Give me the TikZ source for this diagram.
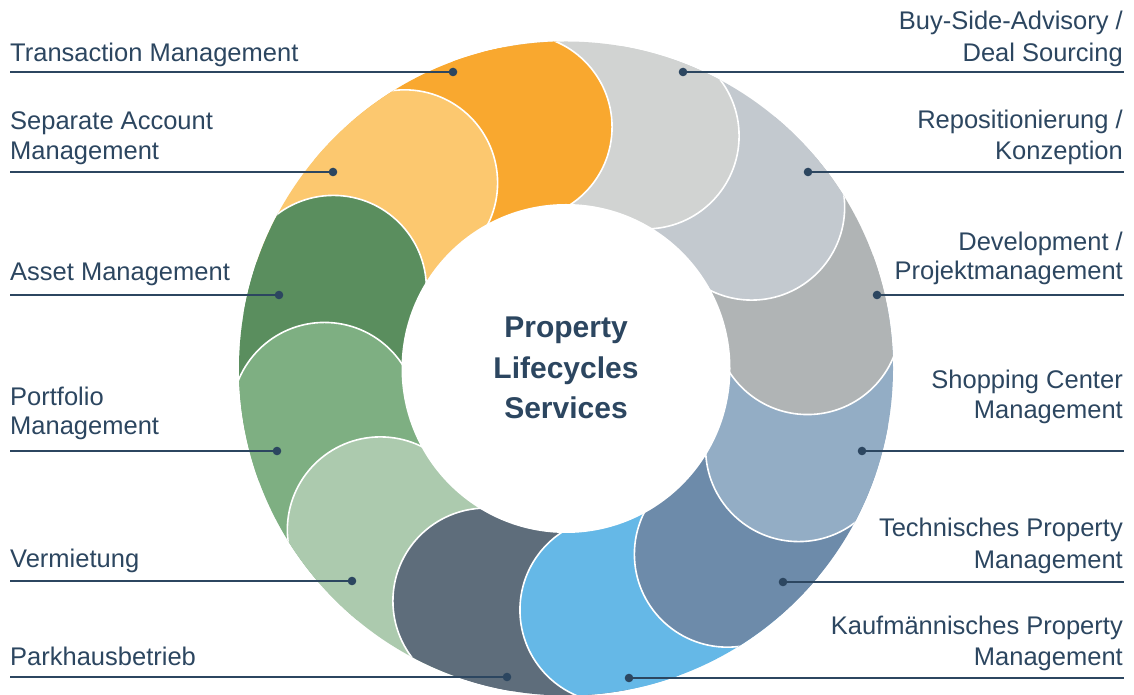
\documentclass[tikz,border=0pt]{standalone}
\usepackage{fontspec}
\setmainfont{Liberation Sans}
\usetikzlibrary{calc}
\definecolor{navy}{HTML}{2C4660}
\definecolor{cTra}{HTML}{F9A82F}
\definecolor{cSep}{HTML}{FCC86F}
\definecolor{cAss}{HTML}{5A8E5E}
\definecolor{cPor}{HTML}{7EAF82}
\definecolor{cVer}{HTML}{ACCAAE}
\definecolor{cPar}{HTML}{5E6D7B}
\definecolor{cKau}{HTML}{65B8E7}
\definecolor{cTec}{HTML}{6D8BAA}
\definecolor{cSho}{HTML}{93ADC5}
\definecolor{cDev}{HTML}{B0B4B5}
\definecolor{cRep}{HTML}{C3C9CF}
\definecolor{cBuy}{HTML}{D1D3D2}
\begin{document}
\begin{tikzpicture}[x=1pt,y=1pt,
  petalrim/.style={draw=white, line width=1.6pt},
  lead/.style={draw=navy, line width=2pt},
  dotn/.style={circle, fill=navy, inner sep=0pt, minimum size=8.6pt},
  lbl/.style={text=navy, font=\fontsize{25.5}{31}\selectfont, inner sep=0pt},
  ttl/.style={text=navy, font=\fontsize{30}{40}\selectfont\bfseries, inner sep=0pt}]
\useasboundingbox (0,0) rectangle (1134,695);
\fill[white] (0,0) rectangle (1134,695);
\coordinate (C) at (566,326.5);
% ring of overlapping petals
\begin{scope}
  \clip (C) circle (327);
  \foreach \a/\c in {101/cTra,131/cSep,161/cAss,191/cPor,221/cVer,251/cPar,281/cKau,311/cTec,341/cSho,371/cDev,401/cRep,431/cBuy}{
    \fill[\c] (C) -- ($(C)+(\a:420)$) -- ($(C)+({\a+15}:420)$) -- ($(C)+({\a+30}:420)$) -- cycle;
    \fill[\c] ($(C)+(\a:246)$) circle (93);
    \begin{scope}
      \clip (C) -- ($(C)+(\a:420)$) -- ($(C)+({\a-20}:420)$) -- ($(C)+({\a-45}:420)$) -- cycle;
      \draw[petalrim] ($(C)+(\a:246)$) circle (93);
    \end{scope}
  }
  % close the cycle: leading half of the first petal on top of the last
  \clip (C) -- ($(C)+(105:420)$) -- ($(C)+(81:420)$) -- ($(C)+(56:420)$) -- cycle;
  \fill[cTra] ($(C)+(101:246)$) circle (93);
  \draw[petalrim] ($(C)+(101:246)$) circle (93);
\end{scope}
% hub
\node[circle, fill=white, minimum size=329pt, inner sep=0pt] (hub) at (C) {};
\node[ttl, anchor=base] (t1) at (566,357.3) {Property};
\node[ttl, anchor=base] (t2) at (566,316.7) {Lifecycles};
\node[ttl, anchor=base] (t3) at (566,276.7) {Services};
% left leaders
\node[dotn] (dTra) at (453,623) {};
\node[dotn] (dSep) at (333,523) {};
\node[dotn] (dAss) at (279,400) {};
\node[dotn] (dPor) at (277,244) {};
\node[dotn] (dVer) at (352,114) {};
\node[dotn] (dPar) at (507,18) {};
\coordinate (eTra) at (10,623);
\coordinate (eSep) at (10,523);
\coordinate (eAss) at (10,400);
\coordinate (ePor) at (10,244);
\coordinate (eVer) at (10,114);
\coordinate (ePar) at (10,18);
\foreach \n in {Tra,Sep,Ass,Por,Ver,Par}
  \draw[lead] (e\n) -- (d\n.center);
% right leaders
\node[dotn] (dBuy) at (683,623) {};
\node[dotn] (dRep) at (808,523) {};
\node[dotn] (dDev) at (877,400) {};
\node[dotn] (dSho) at (862,244) {};
\node[dotn] (dTec) at (783,113) {};
\node[dotn] (dKau) at (629,17) {};
\coordinate (eBuy) at (1124,623);
\coordinate (eRep) at (1124,523);
\coordinate (eDev) at (1124,400);
\coordinate (eSho) at (1124,244);
\coordinate (eTec) at (1124,113);
\coordinate (eKau) at (1124,17);
\foreach \n in {Buy,Rep,Dev,Sho,Tec,Kau}
  \draw[lead] (d\n.center) -- (e\n);
% left labels
\node[lbl, anchor=base west] (lTra) at (10,633.3) {Transaction Management};
\node[lbl, anchor=base west] (lSep1) at (10,565.7) {Separate Account};
\node[lbl, anchor=base west] (lSep2) at (10,535) {Management};
\node[lbl, anchor=base west] (lAss) at (10,414.3) {Asset Management};
\node[lbl, anchor=base west] (lPor1) at (10,289) {Portfolio};
\node[lbl, anchor=base west] (lPor2) at (10,260) {Management};
\node[lbl, anchor=base west] (lVer) at (10,127.7) {Vermietung};
\node[lbl, anchor=base west] (lPar) at (10,29) {Parkhausbetrieb};
% right labels
\node[lbl, anchor=base east] (lBuy1) at (1123,665) {Buy-Side-Advisory /};
\node[lbl, anchor=base east] (lBuy2) at (1123,633.3) {Deal Sourcing};
\node[lbl, anchor=base east] (lRep1) at (1123,566) {Repositionierung /};
\node[lbl, anchor=base east] (lRep2) at (1123,535) {Konzeption};
\node[lbl, anchor=base east] (lDev1) at (1123,444.3) {Development /};
\node[lbl, anchor=base east] (lDev2) at (1123,415) {Projektmanagement};
\node[lbl, anchor=base east] (lSho1) at (1123,306.7) {Shopping Center};
\node[lbl, anchor=base east] (lSho2) at (1123,276.7) {Management};
\node[lbl, anchor=base east] (lTec1) at (1123,158.3) {Technisches Property};
\node[lbl, anchor=base east] (lTec2) at (1123,126.7) {Management};
\node[lbl, anchor=base east] (lKau1) at (1123,60) {Kaufmännisches Property};
\node[lbl, anchor=base east] (lKau2) at (1123,29.3) {Management};
\end{tikzpicture}
\end{document}
